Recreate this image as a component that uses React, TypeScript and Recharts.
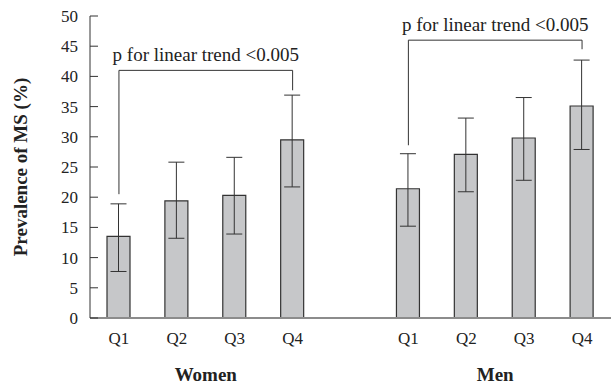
import { Bar, BarChart, ErrorBar, ReferenceArea, ReferenceLine, XAxis, YAxis } from 'recharts';

const categories = ['W1', 'W2', 'W3', 'W4', 'gap', 'M1', 'M2', 'M3', 'M4'];
const tickLabels = ['Q1', 'Q2', 'Q3', 'Q4', '', 'Q1', 'Q2', 'Q3', 'Q4'];
const prevalence = [13.5, 19.4, 20.3, 29.5, null, 21.4, 27.1, 29.8, 35.1];
const lowerCI = [7.7, 13.2, 13.9, 21.7, null, 15.2, 20.9, 22.8, 27.9];
const upperCI = [18.9, 25.8, 26.6, 36.9, null, 27.2, 33.1, 36.5, 42.7];
const yTicks = [0, 5, 10, 15, 20, 25, 30, 35, 40, 45, 50];

// trend brackets: horizontal level, then where each leg stops
const brackets = [
  { from: 'W1', to: 'W4', level: 41, left: 20.5, right: 37.7 },
  { from: 'M1', to: 'M4', level: 46, left: 28.6, right: 44.5 },
];
const groups = [
  { name: 'Women', from: 'W2', to: 'W3' },
  { name: 'Men', from: 'M2', to: 'M3' },
];

const data = categories.map((cat, i) => ({
  cat,
  label: tickLabels[i],
  value: prevalence[i],
  err:
    prevalence[i] == null
      ? null
      : [prevalence[i]! - lowerCI[i]!, upperCI[i]! - prevalence[i]!],
}));

const font = 'Liberation Serif, serif';

function YTick(props: any) {
  const { x, y, payload } = props;
  return (
    <g>
      <line x1={x} x2={x + 8} y1={y} y2={y} stroke='#333' strokeWidth={1} />
      <text
        x={x - 12}
        y={y}
        dy='0.35em'
        textAnchor='end'
        style={{ fontFamily: font, fontSize: 17, fill: '#222' }}
      >
        {payload.value}
      </text>
    </g>
  );
}

export default function App() {
  return (
    <div
      style={{
        position: 'absolute',
        left: 0,
        top: 0,
        background: '#fff',
        fontFamily: font,
      }}
    >
      <BarChart
        width={611}
        height={386}
        data={data}
        margin={{ top: 16, right: 0, left: 0, bottom: 0 }}
      >
        <XAxis
          dataKey='cat'
          tickFormatter={(v: string) => tickLabels[categories.indexOf(v)]}
          axisLine={{ stroke: '#8c8c8c', strokeWidth: 2 }}
          tickLine={false}
          tickSize={0}
          tickMargin={14}
          height={68}
          interval={0}
          tick={{ fontFamily: font, fontSize: 17, fill: '#222' }}
        />
        <YAxis
          domain={[0, 50]}
          ticks={yTicks}
          width={90}
          interval={0}
          axisLine={{ stroke: '#333' }}
          tickLine={false}
          tickSize={0}
          tickMargin={0}
          tick={<YTick />}
          label={{
            value: 'Prevalence of MS (%)',
            angle: -90,
            position: 'insideLeft',
            offset: 20,
            style: {
              textAnchor: 'middle',
              fontFamily: font,
              fontSize: 19,
              fontWeight: 'bold',
              fill: '#222',
            },
          }}
        />
        <Bar
          dataKey='value'
          barSize={23}
          fill='#c6c7c9'
          stroke='#333'
          strokeWidth={1.2}
          isAnimationActive={false}
        >
          <ErrorBar dataKey='err' width={8} stroke='#333' strokeWidth={1} />
        </Bar>
        {brackets.map((b) => (
          <ReferenceLine
            key={b.from + 'h'}
            segment={[
              { x: b.from, y: b.level },
              { x: b.to, y: b.level },
            ]}
            stroke='#333'
            strokeWidth={1}
            ifOverflow='visible'
            label={{
              value: 'p for linear trend <0.005',
              position: 'top',
              offset: 9,
              style: { fontFamily: font, fontSize: 19, fill: '#222' },
            }}
          />
        ))}
        {brackets.map((b) => (
          <ReferenceLine
            key={b.from + 'l'}
            segment={[
              { x: b.from, y: b.level },
              { x: b.from, y: b.left },
            ]}
            stroke='#333'
            strokeWidth={1}
            ifOverflow='visible'
          />
        ))}
        {brackets.map((b) => (
          <ReferenceLine
            key={b.from + 'r'}
            segment={[
              { x: b.to, y: b.level },
              { x: b.to, y: b.right },
            ]}
            stroke='#333'
            strokeWidth={1}
            ifOverflow='visible'
          />
        ))}
        {groups.map((g) => (
          <ReferenceArea
            key={g.name}
            x1={g.from}
            x2={g.to}
            y1={-8.7}
            y2={-9.9}
            ifOverflow='visible'
            fill='none'
            stroke='none'
            label={{
              value: g.name,
              position: 'center',
              style: {
                fontFamily: font,
                fontSize: 19,
                fontWeight: 'bold',
                fill: '#222',
              },
            }}
          />
        ))}
      </BarChart>
    </div>
  );
}
